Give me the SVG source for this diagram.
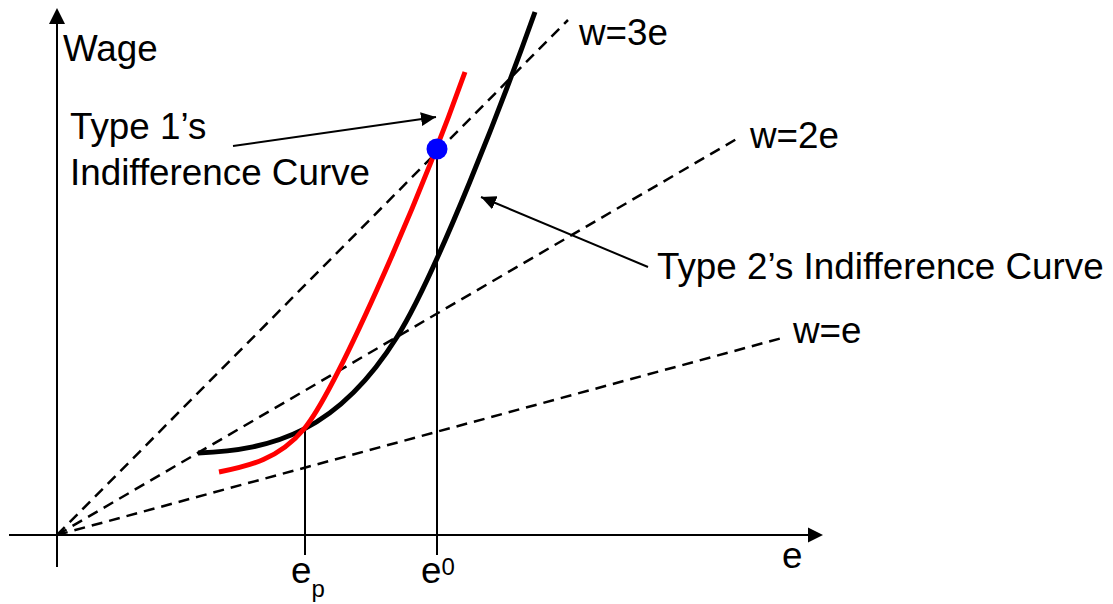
<svg xmlns="http://www.w3.org/2000/svg" width="1113" height="604" viewBox="0 0 1113 604">
  <style>
    .txt { font-family: "Liberation Sans", Arial, sans-serif; font-size: 36.8px; fill: #000; }
    .sub { font-family: "Liberation Sans", Arial, sans-serif; font-size: 24px; fill: #000; }
    .axis { stroke: #000; stroke-width: 2; fill: none; }
    .dash { stroke: #000; stroke-width: 2.5; fill: none; stroke-dasharray: 11 7; }
    .vline { stroke: #000; stroke-width: 2; fill: none; }
    .ptr { stroke: #000; stroke-width: 2; fill: none; marker-end: url(#ah); }
  </style>
  <defs>
    <marker id="ah" markerUnits="userSpaceOnUse" markerWidth="16" markerHeight="14" refX="15" refY="7" orient="auto">
      <path d="M0,0 L15,7 L0,14 Z" fill="#000"/>
    </marker>
  </defs>
  <rect width="1113" height="604" fill="#fff"/>

  <g id="axes">
    <line class="axis" x1="57" y1="567" x2="57" y2="22"/>
    <polygon points="57,8 49,24 65,24" fill="#000"/>
    <line class="axis" x1="9" y1="535" x2="810" y2="535"/>
    <polygon points="823,535 808,527.5 808,542.5" fill="#000"/>
  </g>

  <g id="connectors">
    <line class="dash" x1="57" y1="535" x2="568" y2="20"/>
    <line class="dash" x1="57" y1="535" x2="740" y2="137"/>
    <line class="dash" x1="57" y1="535" x2="782" y2="338"/>
    <line class="vline" x1="305" y1="429" x2="305" y2="555"/>
    <line class="vline" x1="437" y1="149" x2="437" y2="555"/>
    <line class="ptr" x1="233" y1="146" x2="436" y2="117"/>
    <line class="ptr" x1="648" y1="267" x2="481" y2="197"/>
  </g>

  <g id="type2-curve">
    <path d="M198,453 C274,450 338,431 397,337 C437,273 505,96 535,12" stroke="#000" stroke-width="5" fill="none"/>
  </g>
  <g id="type1-curve">
    <path d="M219,472 C249,466 279,459 304,429 C334,393 415,212 465,72" stroke="#f00" stroke-width="5" fill="none"/>
  </g>
  <g id="point">
    <circle cx="437" cy="149" r="10.5" fill="#00f"/>
  </g>

  <g id="labels">
    <text class="txt" x="63" y="61">Wage</text>
    <text class="txt" x="70" y="139">Type 1’s</text>
    <text class="txt" x="70" y="185">Indifference Curve</text>
    <text class="txt" x="657" y="279">Type 2’s Indifference Curve</text>
    <text class="txt" x="579" y="45">w=3e</text>
    <text class="txt" x="750" y="148">w=2e</text>
    <text class="txt" x="793" y="343">w=e</text>
    <text class="txt" x="782" y="568">e</text>
    <text class="txt" x="291" y="583">e<tspan class="sub" dy="14">p</tspan></text>
    <text class="txt" x="421" y="583">e<tspan class="sub" dy="-8">0</tspan></text>
  </g>
</svg>
